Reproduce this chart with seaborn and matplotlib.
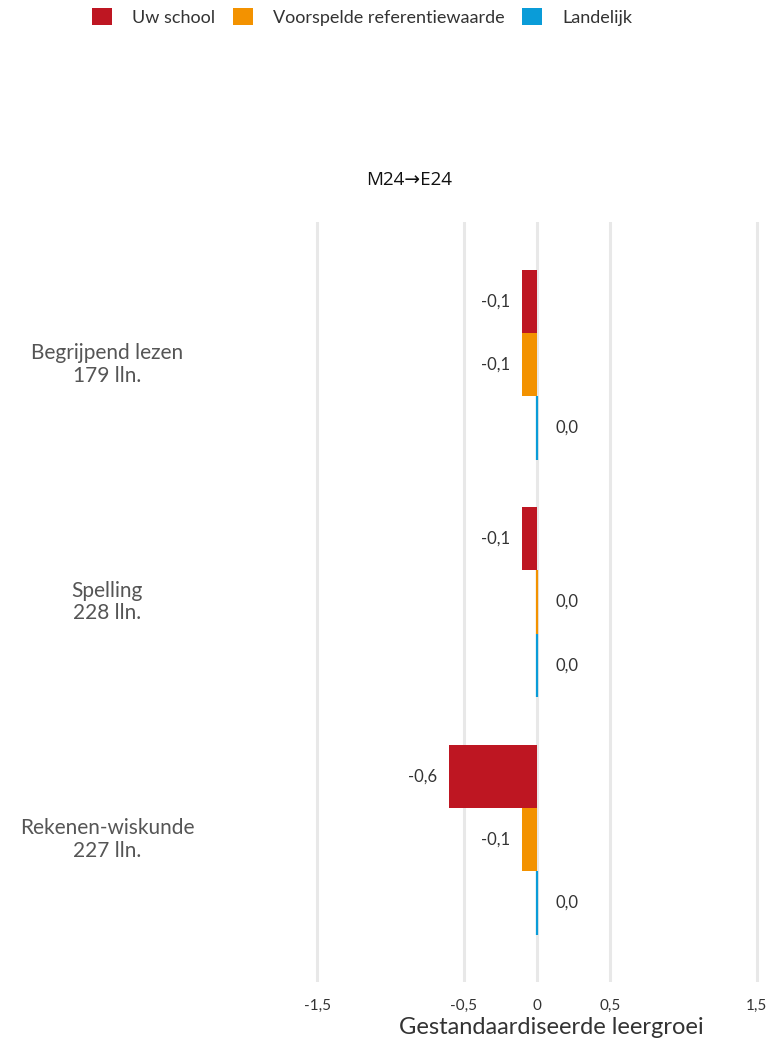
import pandas as pd
import matplotlib
matplotlib.use("Agg")
import matplotlib.pyplot as plt
from matplotlib.patches import Patch
import matplotlib.transforms as mtransforms
import seaborn as sns

# data
subjects = ["Begrijpend lezen", "Spelling", "Rekenen-wiskunde"]
n_students = [179, 228, 227]
series = ["Uw school", "Voorspelde referentiewaarde", "Landelijk"]
uw_school = [-0.1, -0.1, -0.6]
voorspeld = [-0.1, 0.0, -0.1]
landelijk = [0.0, 0.0, 0.0]
colors = ["#BE1622", "#F39200", "#0A9CD8"]
xticks = [-1.5, -0.5, 0, 0.5, 1.5]
xtick_labels = ["-1,5", "-0,5", "0", "0,5", "1,5"]

rows = []
for i, s in enumerate(subjects):
    for name, vals in zip(series, [uw_school, voorspeld, landelijk]):
        rows.append({"subject": s, "serie": name, "value": vals[i]})
df = pd.DataFrame(rows)

sns.set_style("white")
plt.rcParams["font.family"] = ["Lato", "DejaVu Sans"]

fig = plt.figure(figsize=(7.69, 10.43), dpi=100)
ax = fig.add_axes([310 / 769, 1 - 982 / 1043, 454 / 769, 760 / 1043])

sns.barplot(data=df, x="value", y="subject", hue="serie", orient="h",
            palette=colors, hue_order=series, order=subjects,
            width=0.8, saturation=1, legend=False, linewidth=0, ax=ax)

# grid lines
for xt in xticks:
    ax.axvline(xt, color="#e8e8e8", lw=2.2, zorder=0)

ax.set_xlim(-1.55, 1.55)
ax.set_ylim(2.6, -0.6)

# zero bars as thin lines + value labels
for p in ax.patches:
    w = p.get_width()
    yc = p.get_y() + p.get_height() / 2
    if abs(w) < 1e-9:
        ax.plot([0, 0], [p.get_y(), p.get_y() + p.get_height()],
                color=p.get_facecolor(), lw=1.6, solid_capstyle="butt")
    lab = f"{w:.1f}".replace(".", ",")
    if lab == "-0,0":
        lab = "0,0"
    if w < -1e-9:
        ax.annotate(lab, (w, yc), xytext=(-9, 0), textcoords="offset points",
                    ha="right", va="center", fontsize=12, color="#333333")
    else:
        ax.annotate(lab, (w, yc), xytext=(13, 0), textcoords="offset points",
                    ha="left", va="center", fontsize=12, color="#333333")

ax.set_xticks(xticks)
ax.set_xticklabels(xtick_labels, fontsize=11, color="#333333")
ax.tick_params(axis="x", length=0, pad=12)
ax.set_yticks([])
ax.set_ylabel("")
ax.set_xlabel("")
for sp in ax.spines.values():
    sp.set_visible(False)

trans = mtransforms.blended_transform_factory(fig.transFigure, ax.transData)
for i, (s, n) in enumerate(zip(subjects, n_students)):
    fig.text(107 / 769, i, f"{s}\n{n} lln.", transform=trans, ha="center",
             va="center", fontsize=15, color="#555555", linespacing=1.15)

fig.text(551 / 769, 1 - 1028 / 1043, "Gestandaardiseerde leergroei",
         ha="center", va="center", fontsize=17, color="#333333")

fig.text(409 / 769, 1 - 180 / 1043, "M24\u2192E24", ha="center", va="center",
         fontsize=13.5, color="#111111", family=["Open Sans", "DejaVu Sans"])

handles = [Patch(facecolor=c, edgecolor="none") for c in colors]
fig.legend(handles, series, loc="center", bbox_to_anchor=(362 / 769, 1 - 17 / 1043),
           ncol=3, frameon=False, fontsize=13, handlelength=1.1, handleheight=1.1,
           handletextpad=1.1, columnspacing=1.0, labelcolor="#333333")

fig.savefig("out.png", dpi=100)
